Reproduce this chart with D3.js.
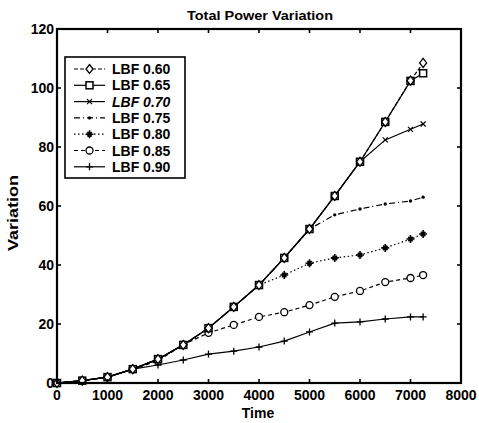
<!DOCTYPE html>
<html><head><meta charset="utf-8">
<script src="https://cdn.jsdelivr.net/npm/d3@7"></script>
<style>body{margin:0;background:#fff}svg{display:block}text{font-family:"Liberation Sans",Arial,sans-serif;font-weight:bold;fill:#000}</style>
</head><body><svg id="c" width="479" height="423"></svg>
<script>
const title = "Total Power Variation";
const xLabel = "Time";
const yLabel = "Variation";
const xTicks = [0,1000,2000,3000,4000,5000,6000,7000,8000];
const yTicks = [0,20,40,60,80,100,120];
const times = [0,500,1000,1500,2000,2500,3000,3500,4000,4500,5000,5500,6000,6500,7000,7250];
const seriesNames = ["LBF 0.60","LBF 0.65","LBF 0.70","LBF 0.75","LBF 0.80","LBF 0.85","LBF 0.90"];
const lbf060 = [0,0.8,2,4.7,8.1,12.9,18.6,25.8,33.2,42.4,52.2,63.4,75,88.5,102.5,108.5];
const lbf065 = [0,0.8,2,4.7,8.1,12.9,18.6,25.8,33.2,42.4,52.2,63.4,75,88.5,102.4,105];
const lbf070 = [0,0.8,2,4.7,8.1,12.9,18.6,25.8,33.2,42.4,52.2,63.4,75,82.4,86,87.8];
const lbf075 = [0,0.8,2,4.7,8.1,12.9,18.6,25.8,33.2,42.4,52.2,57,59,60.7,61.7,63];
const lbf080 = [0,0.8,2,4.7,8.1,12.9,18.6,25.8,33.2,36.6,40.6,42.4,43.4,45.8,48.8,50.5];
const lbf085 = [0,0.8,2,4.7,7.5,13,17,19.7,22.4,24,26.4,29.2,31.2,34.2,35.6,36.6];
const lbf090 = [0,0.8,2,4.7,6.1,7.8,9.8,10.8,12.2,14.2,17.3,20.3,20.7,21.7,22.4,22.4];
const seriesValues = [lbf060,lbf065,lbf070,lbf075,lbf080,lbf085,lbf090];
const dashes = ["4,2","none","none","6,3,1,3","1.5,2.5","4,3","none"];
const markers = ["diamond","square","x","point","star","circle","plus"];

const svg = d3.select("#c");
const L=57,R=461,T=29,B=383;
const x = d3.scaleLinear().domain([0,8000]).range([L,R]);
const y = d3.scaleLinear().domain([0,120]).range([B,T]);

const line = d3.line().x((d,i)=>x(times[i])).y(d=>y(d));
function marker(g, type, cx, cy){
  const s=3.5;
  if(type==="diamond") g.append("path").attr("d",`M${cx},${cy-s-1}L${cx+s},${cy}L${cx},${cy+s+1}L${cx-s},${cy}Z`).attr("fill","#fff").attr("stroke","#000").attr("stroke-width",1.3);
  else if(type==="square") g.append("rect").attr("x",cx-s).attr("y",cy-s).attr("width",2*s).attr("height",2*s).attr("fill","#fff").attr("stroke","#000").attr("stroke-width",1.5);
  else if(type==="circle") g.append("circle").attr("cx",cx).attr("cy",cy).attr("r",s).attr("fill","#fff").attr("stroke","#000").attr("stroke-width",1.3);
  else if(type==="x") g.append("path").attr("d",`M${cx-2.5},${cy-2.5}L${cx+2.5},${cy+2.5}M${cx-2.5},${cy+2.5}L${cx+2.5},${cy-2.5}`).attr("stroke","#000").attr("stroke-width",1.2);
  else if(type==="plus") g.append("path").attr("d",`M${cx-3.5},${cy}L${cx+3.5},${cy}M${cx},${cy-3.5}L${cx},${cy+3.5}`).attr("stroke","#000").attr("stroke-width",1.3);
  else if(type==="point") g.append("circle").attr("cx",cx).attr("cy",cy).attr("r",1.7).attr("fill","#000");
  else if(type==="star") g.append("path").attr("d",`M${cx-4},${cy}L${cx+4},${cy}M${cx},${cy-4}L${cx},${cy+4}M${cx-2.2},${cy-2.2}L${cx+2.2},${cy+2.2}M${cx-2.2},${cy+2.2}L${cx+2.2},${cy-2.2}`).attr("stroke","#000").attr("stroke-width",1.6);
}
[6,5,4,3,2,1,0].forEach(k=>{
  const g=svg.append("g");
  g.append("path").attr("d",line(seriesValues[k])).attr("fill","none").attr("stroke","#000").attr("stroke-width",1.2).attr("stroke-dasharray",dashes[k]);
  seriesValues[k].forEach((v,i)=>marker(g,markers[k],x(times[i]),y(v)));
});

const ax=svg.append("g");
ax.append("rect").attr("x",L).attr("y",T).attr("width",R-L).attr("height",B-T).attr("fill","none").attr("stroke","#000").attr("stroke-width",2.2);
xTicks.forEach(t=>{
  ax.append("line").attr("x1",x(t)).attr("x2",x(t)).attr("y1",B).attr("y2",B-4).attr("stroke","#000").attr("stroke-width",1.6);
  ax.append("line").attr("x1",x(t)).attr("x2",x(t)).attr("y1",T).attr("y2",T+4).attr("stroke","#000").attr("stroke-width",1.6);
  ax.append("text").attr("x",x(t)).attr("y",B+17).attr("text-anchor","middle").attr("font-size",14).text(t);
});
yTicks.forEach(t=>{
  ax.append("line").attr("x1",L).attr("x2",L+4).attr("y1",y(t)).attr("y2",y(t)).attr("stroke","#000").attr("stroke-width",1.6);
  ax.append("line").attr("x1",R).attr("x2",R-4).attr("y1",y(t)).attr("y2",y(t)).attr("stroke","#000").attr("stroke-width",1.6);
  ax.append("text").attr("x",L-3).attr("y",y(t)+5).attr("text-anchor","end").attr("font-size",14).text(t);
});
svg.append("text").attr("x",260).attr("y",20).attr("text-anchor","middle").attr("font-size",13).attr("textLength",146).attr("lengthAdjust","spacingAndGlyphs").text(title);
svg.append("text").attr("x",258).attr("y",418).attr("text-anchor","middle").attr("font-size",14).text(xLabel);
svg.append("text").attr("transform",`translate(18,213) rotate(-90)`).attr("text-anchor","middle").attr("font-size",14).attr("textLength",76).attr("lengthAdjust","spacingAndGlyphs").text(yLabel);

const lg=svg.append("g");
lg.append("rect").attr("x",65).attr("y",57).attr("width",120).attr("height",121).attr("fill","#fff").attr("stroke","#000").attr("stroke-width",1.6);
seriesNames.forEach((n,k)=>{
  const yy=69+k*16.3;
  const g=lg.append("g");
  g.append("line").attr("x1",74).attr("x2",105).attr("y1",yy).attr("y2",yy).attr("stroke","#000").attr("stroke-width",1.2).attr("stroke-dasharray",dashes[k]);
  marker(g,markers[k],89.5,yy);
  g.append("text").attr("x",112).attr("y",yy+5).attr("font-size",14).attr("font-style",k===2?"italic":"normal").text(n);
});
</script></body></html>
